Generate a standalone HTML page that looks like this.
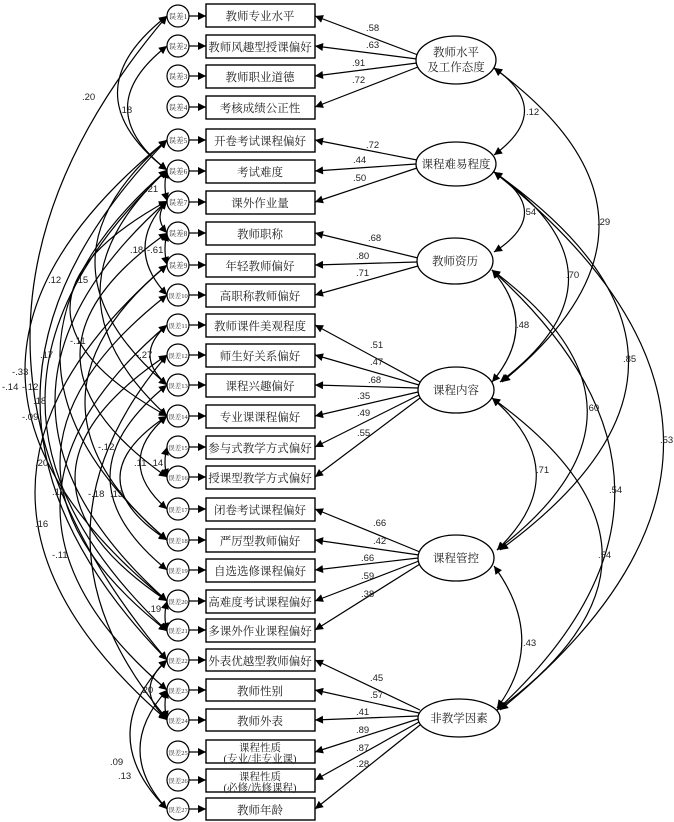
<!DOCTYPE html>
<html><head><meta charset="utf-8"><style>
html,body{margin:0;padding:0;background:#fff;}
svg{display:block;}
.bt{font-family:"Liberation Serif","Noto Serif CJK SC",serif;font-size:11.5px;fill:#222;text-anchor:middle;}
.et{font-family:"Liberation Serif","Noto Serif CJK SC",serif;font-size:7.5px;fill:#333;text-anchor:middle;}
.n{font-family:"Liberation Sans",sans-serif;font-size:9.5px;fill:#222;}
</style></head><body>
<svg width="674" height="822" viewBox="0 0 674 822" xmlns="http://www.w3.org/2000/svg">
<defs>
<marker id="a" viewBox="0 0 10 10" refX="10" refY="5" markerWidth="11" markerHeight="8" orient="auto-start-reverse" markerUnits="userSpaceOnUse"><path d="M0,0 L10,5 L0,10 z" fill="#000"/></marker>
</defs>
<g id="left" fill="none" stroke="#000" stroke-width="1.2" marker-start="url(#a)" marker-end="url(#a)">
<path d="M167,16 Q68,93 167,170"/>
<path d="M167,46 Q88,108 167,170"/>
<path d="M167,16 Q-107,338 167,660"/>
<path d="M167,140 Q-117,370 167,601"/>
<path d="M167,140 Q-87,400 167,660"/>
<path d="M167,170 Q-77,400 167,631"/>
<path d="M167,170 Q-47,355 167,540"/>
<path d="M167,201 Q-57,401 167,601"/>
<path d="M167,201 Q-27,308 167,416"/>
<path d="M167,201 Q153,217 167,233"/>
<path d="M167,170 Q163,185 167,201"/>
<path d="M167,201 Q123,248 167,295"/>
<path d="M167,233 Q163,249 167,265"/>
<path d="M167,265 Q-97,492 167,720"/>
<path d="M167,265 Q3,402 167,540"/>
<path d="M167,295 Q-47,463 167,631"/>
<path d="M167,325 Q133,355 167,385"/>
<path d="M167,355 Q-17,478 167,601"/>
<path d="M167,385 Q53,477 167,570"/>
<path d="M167,416 Q113,462 167,509"/>
<path d="M167,416 Q73,478 167,540"/>
<path d="M167,447 Q163,462 167,477"/>
<path d="M167,325 Q-47,507 167,690"/>
<path d="M167,355 Q13,537 167,719"/>
<path d="M167,601 Q163,616 167,631"/>
<path d="M167,660 Q133,690 167,719"/>
<path d="M167,690 Q163,705 167,719"/>
<path d="M167,660 Q93,735 167,809"/>
<path d="M167,690 Q113,750 167,809"/>
<path d="M167,140 Q23,262 167,385"/>
<path d="M167,233 Q-7,355 167,477"/>
<path d="M167,170 Q33,293 167,416"/>
</g>
<g class="n">
<text x="82" y="100">.20</text><text x="119" y="113">.18</text><text x="145" y="192">.21</text>
<text x="130" y="253">.18</text><text x="147" y="253">-.61</text>
<text x="48" y="283">.12</text><text x="75" y="283">.15</text>
<text x="70" y="344">-.11</text><text x="40" y="358">.17</text><text x="136" y="358">-.27</text>
<text x="12" y="375">-.33</text><text x="2" y="390">-.14</text><text x="22" y="390">-.12</text><text x="33" y="404">.18</text>
<text x="22" y="420">-.09</text><text x="98" y="450">-.12</text><text x="134" y="466">.11</text><text x="150" y="466">.14</text>
<text x="35" y="466">.20</text><text x="52" y="495">.19</text><text x="88" y="497">-.18</text><text x="110" y="497">.13</text>
<text x="35" y="527">.16</text><text x="52" y="558">-.11</text><text x="148" y="612">.19</text>
<text x="140" y="693">.20</text><text x="110" y="765">.09</text><text x="118" y="779">.13</text>
</g>
<g id="errs" fill="#fff" stroke="#000" stroke-width="1.2">
<circle cx="178" cy="16" r="11"/><circle cx="178" cy="46" r="11"/><circle cx="178" cy="76" r="11"/><circle cx="178" cy="107" r="11"/>
<circle cx="178" cy="140" r="11"/><circle cx="178" cy="171" r="11"/><circle cx="178" cy="202" r="11"/><circle cx="178" cy="233" r="11"/>
<circle cx="178" cy="265" r="11"/><circle cx="178" cy="295" r="11"/><circle cx="178" cy="325" r="11"/><circle cx="178" cy="355" r="11"/>
<circle cx="178" cy="385" r="11"/><circle cx="178" cy="416" r="11"/><circle cx="178" cy="447" r="11"/><circle cx="178" cy="477" r="11"/>
<circle cx="178" cy="509" r="11"/><circle cx="178" cy="540" r="11"/><circle cx="178" cy="570" r="11"/><circle cx="178" cy="601" r="11"/>
<circle cx="178" cy="630" r="11"/><circle cx="178" cy="660" r="11"/><circle cx="178" cy="690" r="11"/><circle cx="178" cy="720" r="11"/>
<circle cx="178" cy="752" r="11"/><circle cx="178" cy="780" r="11"/><circle cx="178" cy="809" r="11"/>
</g>
<g class="et">
<text x="178" y="19">误差1</text><text x="178" y="49">误差2</text><text x="178" y="79">误差3</text><text x="178" y="110">误差4</text>
<text x="178" y="143">误差5</text><text x="178" y="174">误差6</text><text x="178" y="205">误差7</text><text x="178" y="236">误差8</text>
<text x="178" y="268">误差9</text><text x="178" y="298" style="font-size:6.5px">误差10</text><text x="178" y="328" style="font-size:6.5px">误差11</text><text x="178" y="358" style="font-size:6.5px">误差12</text>
<text x="178" y="388" style="font-size:6.5px">误差13</text><text x="178" y="419" style="font-size:6.5px">误差14</text><text x="178" y="450" style="font-size:6.5px">误差15</text><text x="178" y="480" style="font-size:6.5px">误差16</text>
<text x="178" y="512" style="font-size:6.5px">误差17</text><text x="178" y="543" style="font-size:6.5px">误差18</text><text x="178" y="573" style="font-size:6.5px">误差19</text><text x="178" y="604" style="font-size:6.5px">误差20</text>
<text x="178" y="633" style="font-size:6.5px">误差21</text><text x="178" y="663" style="font-size:6.5px">误差22</text><text x="178" y="693" style="font-size:6.5px">误差23</text><text x="178" y="723" style="font-size:6.5px">误差24</text>
<text x="178" y="755" style="font-size:6.5px">误差25</text><text x="178" y="783" style="font-size:6.5px">误差26</text><text x="178" y="812" style="font-size:6.5px">误差27</text>
</g>
<g stroke="#000" stroke-width="1.2" marker-end="url(#a)">
<line x1="189" y1="16" x2="206" y2="16"/><line x1="189" y1="46" x2="206" y2="46"/><line x1="189" y1="76" x2="206" y2="76"/><line x1="189" y1="107" x2="206" y2="107"/>
<line x1="189" y1="140" x2="206" y2="140"/><line x1="189" y1="171" x2="206" y2="171"/><line x1="189" y1="202" x2="206" y2="202"/><line x1="189" y1="233" x2="206" y2="233"/>
<line x1="189" y1="265" x2="206" y2="265"/><line x1="189" y1="295" x2="206" y2="295"/><line x1="189" y1="325" x2="206" y2="325"/><line x1="189" y1="355" x2="206" y2="355"/>
<line x1="189" y1="385" x2="206" y2="385"/><line x1="189" y1="416" x2="206" y2="416"/><line x1="189" y1="447" x2="206" y2="447"/><line x1="189" y1="477" x2="206" y2="477"/>
<line x1="189" y1="509" x2="206" y2="509"/><line x1="189" y1="540" x2="206" y2="540"/><line x1="189" y1="570" x2="206" y2="570"/><line x1="189" y1="601" x2="206" y2="601"/>
<line x1="189" y1="630" x2="206" y2="630"/><line x1="189" y1="660" x2="206" y2="660"/><line x1="189" y1="690" x2="206" y2="690"/><line x1="189" y1="720" x2="206" y2="720"/>
<line x1="189" y1="752" x2="206" y2="752"/><line x1="189" y1="780" x2="206" y2="780"/><line x1="189" y1="809" x2="206" y2="809"/>
</g>
<g fill="#fff" stroke="#000" stroke-width="1.4">
<rect x="206" y="4" width="109" height="23"/><rect x="206" y="35" width="109" height="23"/><rect x="206" y="65" width="109" height="23"/><rect x="206" y="96" width="109" height="23"/>
<rect x="206" y="129" width="109" height="23"/><rect x="206" y="160" width="109" height="23"/><rect x="206" y="191" width="109" height="23"/><rect x="206" y="222" width="109" height="23"/>
<rect x="206" y="254" width="109" height="23"/><rect x="206" y="284" width="109" height="23"/><rect x="206" y="314" width="109" height="23"/><rect x="206" y="344" width="109" height="23"/>
<rect x="206" y="374" width="109" height="23"/><rect x="206" y="405" width="109" height="23"/><rect x="206" y="436" width="109" height="23"/><rect x="206" y="466" width="109" height="23"/>
<rect x="206" y="498" width="109" height="23"/><rect x="206" y="529" width="109" height="23"/><rect x="206" y="559" width="109" height="23"/><rect x="206" y="590" width="109" height="23"/>
<rect x="206" y="619" width="109" height="23"/><rect x="206" y="649" width="109" height="22"/><rect x="206" y="679" width="109" height="22"/><rect x="206" y="709" width="109" height="22"/>
<rect x="206" y="740" width="109" height="23"/><rect x="206" y="769" width="109" height="23"/><rect x="206" y="798" width="109" height="22"/>
</g>
<g class="bt">
<text x="260" y="20">教师专业水平</text><text x="260" y="51">教师风趣型授课偏好</text><text x="260" y="81">教师职业道德</text><text x="260" y="112">考核成绩公正性</text>
<text x="260" y="145">开卷考试课程偏好</text><text x="260" y="176">考试难度</text><text x="260" y="207">课外作业量</text><text x="260" y="238">教师职称</text>
<text x="260" y="270">年轻教师偏好</text><text x="260" y="300">高职称教师偏好</text><text x="260" y="330">教师课件美观程度</text><text x="260" y="360">师生好关系偏好</text>
<text x="260" y="390">课程兴趣偏好</text><text x="260" y="421">专业课课程偏好</text><text x="260" y="452">参与式教学方式偏好</text><text x="260" y="482">授课型教学方式偏好</text>
<text x="260" y="514">闭卷考试课程偏好</text><text x="260" y="545">严厉型教师偏好</text><text x="260" y="575">自选选修课程偏好</text><text x="260" y="606">高难度考试课程偏好</text>
<text x="260" y="635">多课外作业课程偏好</text><text x="260" y="665">外表优越型教师偏好</text><text x="260" y="695">教师性别</text><text x="260" y="725">教师外表</text>
<text x="260" y="751" style="font-size:10.5px">课程性质</text><text x="260" y="762" style="font-size:10.5px">(专业/非专业课)</text>
<text x="260" y="780" style="font-size:10.5px">课程性质</text><text x="260" y="791" style="font-size:10.5px">(必修/选修课程)</text>
<text x="260" y="814">教师年龄</text>
</g>
<g stroke="#000" stroke-width="1.2" marker-end="url(#a)">
<line x1="418" y1="55" x2="315" y2="16"/><line x1="417" y1="59" x2="315" y2="46"/><line x1="417" y1="63" x2="315" y2="76"/><line x1="418" y1="67" x2="315" y2="107"/>
<line x1="417" y1="160" x2="315" y2="140"/><line x1="416" y1="164" x2="315" y2="171"/><line x1="417" y1="168" x2="315" y2="202"/>
<line x1="418" y1="258" x2="315" y2="233"/><line x1="417" y1="262" x2="315" y2="265"/><line x1="418" y1="266" x2="315" y2="295"/>
<line x1="420" y1="382" x2="315" y2="325"/><line x1="419" y1="385" x2="315" y2="355"/><line x1="418" y1="388" x2="315" y2="385"/><line x1="418" y1="392" x2="315" y2="416"/><line x1="419" y1="395" x2="315" y2="447"/><line x1="420" y1="398" x2="315" y2="477"/>
<line x1="420" y1="552" x2="315" y2="509"/><line x1="419" y1="555" x2="315" y2="540"/><line x1="418" y1="558" x2="315" y2="570"/><line x1="419" y1="561" x2="315" y2="601"/><line x1="420" y1="564" x2="315" y2="630"/>
<line x1="420" y1="710" x2="315" y2="660"/><line x1="419" y1="713" x2="315" y2="690"/><line x1="418" y1="716" x2="315" y2="720"/><line x1="418" y1="719" x2="315" y2="752"/><line x1="419" y1="722" x2="315" y2="780"/><line x1="420" y1="725" x2="315" y2="809"/>
</g>
<g class="n">
<text x="366" y="31">.58</text><text x="366" y="48">.63</text><text x="352" y="66">.91</text><text x="352" y="83">.72</text>
<text x="366" y="148">.72</text><text x="353" y="163">.44</text><text x="353" y="181">.50</text>
<text x="368" y="241">.68</text><text x="356" y="259">.80</text><text x="356" y="276">.71</text>
<text x="370" y="348">.51</text><text x="370" y="365">.47</text><text x="368" y="383">.68</text><text x="357" y="399">.35</text><text x="357" y="416">.49</text><text x="357" y="436">.55</text>
<text x="373" y="526">.66</text><text x="373" y="544">.42</text><text x="361" y="561">.66</text><text x="361" y="579">.59</text><text x="361" y="597">.38</text>
<text x="370" y="681">.45</text><text x="370" y="698">.57</text><text x="356" y="715">.41</text><text x="356" y="733">.89</text><text x="356" y="751">.87</text><text x="356" y="767">.28</text>
</g>
<g fill="none" stroke="#000" stroke-width="1.2" marker-start="url(#a)" marker-end="url(#a)">
<path d="M494,68 Q555,110 494,155"/>
<path d="M494,68 Q700,220 502,382"/>
<path d="M494,172 Q555,213 494,252"/>
<path d="M494,172 Q640,276 500,382"/>
<path d="M494,172 Q760,360 500,550"/>
<path d="M494,172 Q830,440 500,710"/>
<path d="M492,270 Q540,325 492,382"/>
<path d="M492,270 Q680,410 497,550"/>
<path d="M492,270 Q735,490 497,710"/>
<path d="M492,398 Q578,472 497,550"/>
<path d="M492,398 Q710,555 497,710"/>
<path d="M494,566 Q548,640 497,708"/>
</g>
<g class="n">
<text x="526" y="115">.12</text><text x="597" y="225">.29</text><text x="523" y="215">.54</text><text x="566" y="278">.70</text>
<text x="623" y="362">.85</text><text x="660" y="443">.53</text><text x="516" y="328">.48</text><text x="586" y="411">.60</text>
<text x="609" y="493">.54</text><text x="536" y="473">.71</text><text x="598" y="558">.54</text><text x="523" y="646">.43</text>
</g>
<g fill="#fff" stroke="#000" stroke-width="1.3">
<ellipse cx="456" cy="60" rx="40" ry="24"/><ellipse cx="456" cy="164" rx="40" ry="22"/><ellipse cx="455" cy="261" rx="38" ry="23"/>
<ellipse cx="456" cy="390" rx="38" ry="23"/><ellipse cx="456" cy="558" rx="38" ry="23"/><ellipse cx="459" cy="718" rx="41" ry="19"/>
</g>
<g class="bt">
<text x="456" y="56">教师水平</text><text x="456" y="71">及工作态度</text>
<text x="456" y="168">课程难易程度</text><text x="455" y="265">教师资历</text><text x="456" y="394">课程内容</text>
<text x="456" y="562">课程管控</text><text x="459" y="722">非教学因素</text>
</g>
</svg>
</body></html>
